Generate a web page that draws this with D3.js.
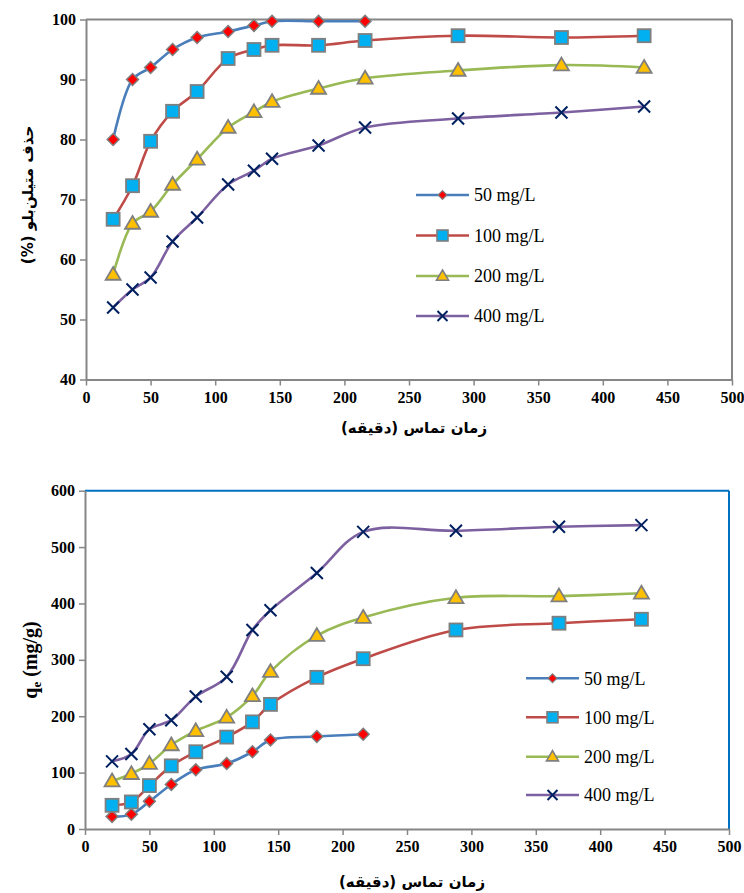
<!DOCTYPE html>
<html><head><meta charset="utf-8">
<script src="https://cdn.jsdelivr.net/npm/d3@7"></script>
<style>
html,body{margin:0;padding:0;background:#fff;}
svg{display:block;}
.tick text{font-family:'Liberation Serif','Times New Roman',serif !important;font-weight:bold !important;font-size:16px !important;}
</style></head>
<body>
<svg id="c" width="744" height="893"></svg>
<script>
const times = [21, 36, 50, 67, 86, 110, 130, 144, 180, 216, 288, 368, 432];
const seriesNames = ["50 mg/L", "100 mg/L", "200 mg/L", "400 mg/L"];
const removal50 = [80, 90, 92, 95, 97, 98, 99, 99.7, 99.7, 99.7];
const removal100 = [66.7, 72.3, 79.7, 84.7, 88, 93.5, 95, 95.7, 95.7, 96.5, 97.3, 97, 97.3];
const removal200 = [57.5, 66, 68, 72.5, 76.7, 82, 84.6, 86.3, 88.5, 90.2, 91.5, 92.4, 92];
const removal400 = [52, 55, 57, 63, 67, 72.5, 74.8, 76.8, 79, 82, 83.5, 84.5, 85.5];
const qe50 = [22, 26, 49, 79, 105, 116, 137, 158, 164, 168];
const qe100 = [42, 48, 77, 112, 137, 163, 190, 221, 269, 302, 353, 365, 372];
const qe200 = [85, 98, 116, 149, 174, 198, 236, 279, 343, 375, 410, 413, 418];
const qe400 = [120, 133, 177, 193, 235, 270, 353, 388, 454, 527, 529, 536, 539];
const xTicks = [0, 50, 100, 150, 200, 250, 300, 350, 400, 450, 500];
const yTicksTop = [40, 50, 60, 70, 80, 90, 100];
const yTicksBottom = [0, 100, 200, 300, 400, 500, 600];
const xTitle = "زمان تماس (دقیقه)";
const yTitleTop = "حذف متیلن‌بلو (%)";

const lineColors = ["#4A7EBB", "#BE4B48", "#98B954", "#7D60A0"];
const markerFill = ["#FF0000", "#00B0F0", "#FFC000", "none"];
const axisColor = "#868686";
const FONT = "'Liberation Serif','Times New Roman',serif";
const AFONT = "'DejaVu Sans','Liberation Serif',sans-serif";

const svg = d3.select("#c");

function marker(g, i, x, y) {
  if (i === 0) {
    g.append("path").attr("d", d3.symbol(d3.symbolDiamond2, 90)())
      .attr("transform", `translate(${x},${y})`)
      .attr("fill", markerFill[0]).attr("stroke", "#7F7F7F").attr("stroke-width", 1.5);
  } else if (i === 1) {
    g.append("rect").attr("x", x - 6.5).attr("y", y - 6.5).attr("width", 13).attr("height", 13)
      .attr("fill", markerFill[1]).attr("stroke", "#7F7F7F").attr("stroke-width", 1.8);
  } else if (i === 2) {
    const s = 7.5;
    g.append("path").attr("d", `M${x},${y - s} L${x + s},${y + s * 0.7} L${x - s},${y + s * 0.7} Z`)
      .attr("fill", markerFill[2]).attr("stroke", "#7F7F7F").attr("stroke-width", 1.8);
  } else {
    const s = 6;
    g.append("path").attr("d", `M${x - s},${y - s} L${x + s},${y + s} M${x - s},${y + s} L${x + s},${y - s}`)
      .attr("stroke", "#002060").attr("stroke-width", 2).attr("fill", "none");
  }
}

function chart(cfg) {
  const x = d3.scaleLinear().domain([0, 500]).range([cfg.x0, cfg.x1]);
  const y = d3.scaleLinear().domain(cfg.yDomain).range([cfg.y0, cfg.y1]);
  const g = svg.append("g");

  g.append("line").attr("x1", cfg.x0).attr("x2", cfg.x1).attr("y1", cfg.y1).attr("y2", cfg.y1)
    .attr("stroke", cfg.frameColor).attr("stroke-width", 2);
  g.append("line").attr("x1", cfg.x1).attr("x2", cfg.x1).attr("y1", cfg.y1).attr("y2", cfg.y0)
    .attr("stroke", cfg.frameColor).attr("stroke-width", 2);

  const xa = g.append("g").attr("transform", `translate(0,${cfg.y0})`)
    .call(d3.axisBottom(x).tickValues(xTicks).tickSize(6).tickPadding(6).tickSizeOuter(0));
  const ya = g.append("g").attr("transform", `translate(${cfg.x0},0)`)
    .call(d3.axisLeft(y).tickValues(cfg.yTicks).tickSize(6).tickPadding(4).tickSizeOuter(0));
  [xa, ya].forEach(a => {
    a.attr("font-family", FONT).attr("font-size", 16).attr("font-weight", "bold");
    a.select(".domain").attr("stroke", axisColor).attr("stroke-width", 2);
    a.selectAll(".tick line").attr("stroke", axisColor).attr("stroke-width", 1.5);
    a.selectAll(".tick text").attr("fill", "#000");
  });

  const line = d3.line().x(d => x(d[0])).y(d => y(d[1])).curve(d3.curveCatmullRom.alpha(0.5));
  cfg.series.forEach((vals, i) => {
    const pts = vals.map((v, k) => [times[k], v]);
    g.append("path").datum(pts).attr("d", line).attr("fill", "none")
      .attr("stroke", lineColors[i]).attr("stroke-width", 2.6);
  });
  cfg.series.forEach((vals, i) => {
    const mg = g.append("g");
    vals.forEach((v, k) => marker(mg, i, x(times[k]), y(v)));
  });

  seriesNames.forEach((name, i) => {
    const ly = cfg.legY[i];
    g.append("line").attr("x1", cfg.legX).attr("x2", cfg.legX + 53).attr("y1", ly).attr("y2", ly)
      .attr("stroke", lineColors[i]).attr("stroke-width", 2.6);
    const mg = g.append("g");
    const cx = cfg.legX + 26.5;
    if (i === 0) {
      mg.append("path").attr("d", d3.symbol(d3.symbolDiamond2, 50)())
        .attr("transform", `translate(${cx},${ly})`)
        .attr("fill", markerFill[0]).attr("stroke", "#7F7F7F").attr("stroke-width", 1.2);
    } else if (i === 1) {
      mg.append("rect").attr("x", cx - 5.5).attr("y", ly - 5.5).attr("width", 11).attr("height", 11)
        .attr("fill", markerFill[1]).attr("stroke", "#7F7F7F").attr("stroke-width", 1.6);
    } else if (i === 2) {
      const s = 6;
      mg.append("path").attr("d", `M${cx},${ly - s} L${cx + s},${ly + s * 0.7} L${cx - s},${ly + s * 0.7} Z`)
        .attr("fill", markerFill[2]).attr("stroke", "#7F7F7F").attr("stroke-width", 1.6);
    } else {
      const s = 5;
      mg.append("path").attr("d", `M${cx - s},${ly - s} L${cx + s},${ly + s} M${cx - s},${ly + s} L${cx + s},${ly - s}`)
        .attr("stroke", "#002060").attr("stroke-width", 2);
    }
    g.append("text").attr("x", cfg.legX + 58).attr("y", ly).attr("dy", "0.35em")
      .style("font-family", FONT).style("font-size", "18px").attr("fill", "#000").text(name);
  });

  g.append("text").attr("x", cfg.xTitleX).attr("y", cfg.xTitleY).attr("text-anchor", "middle")
    .style("font-family", AFONT).style("font-weight", "bold").style("font-size", "15px")
    .attr("direction", "rtl").attr("fill", "#000").text(xTitle);
  return g;
}

chart({
  x0: 86, x1: 732, y0: 379.5, y1: 19.5, yDomain: [40, 100], yTicks: yTicksTop,
  series: [removal50, removal100, removal200, removal400],
  frameColor: axisColor,
  legX: 416, legY: [195, 235.5, 276, 316],
  xTitleX: 414, xTitleY: 433
});
chart({
  x0: 85, x1: 729, y0: 829, y1: 490.7, yDomain: [0, 600], yTicks: yTicksBottom,
  series: [qe50, qe100, qe200, qe400],
  frameColor: "#0070C0",
  legX: 526, legY: [678.3, 717.3, 756.7, 795],
  xTitleX: 412, xTitleY: 887
});

svg.append("text").attr("transform", "translate(33,195) rotate(-90)").attr("text-anchor", "middle")
  .style("font-family", AFONT).style("font-weight", "bold").style("font-size", "15px")
  .attr("direction", "rtl").attr("fill", "#000").text(yTitleTop);
const yt = svg.append("text").attr("transform", "translate(37,660) rotate(-90)").attr("text-anchor", "middle")
  .style("font-family", FONT).style("font-weight", "bold").style("font-size", "20px").attr("fill", "#000");
yt.append("tspan").text("q");
yt.append("tspan").style("font-size", "13px").attr("dy", 4).text("e");
yt.append("tspan").attr("dy", -4).text(" (mg/g)");
</script>
</body></html>
